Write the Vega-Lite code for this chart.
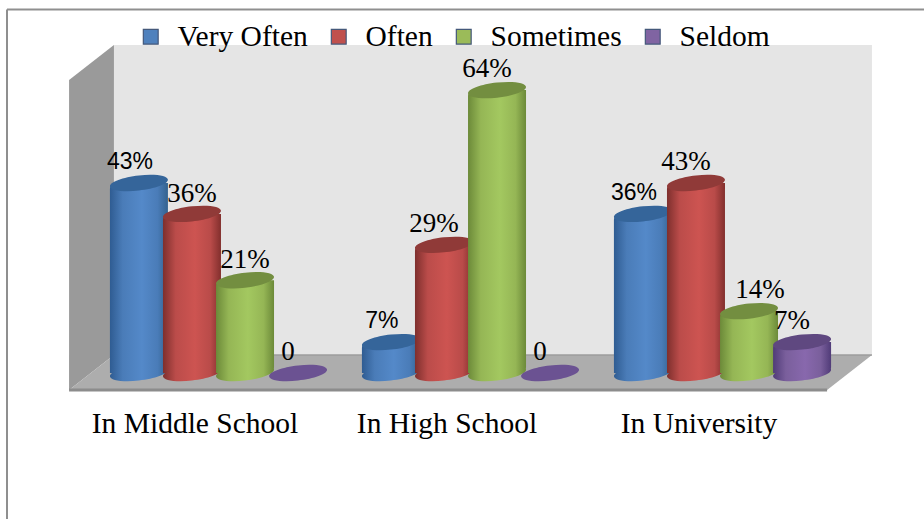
{
"$schema":"https://vega.github.io/schema/vega-lite/v6.json",
"width":924,"height":519,"padding":0,"autosize":{"type":"none"},"background":"white",
"config":{"view":{"stroke":null}},
"datasets":{
"bars":[
{"school":"In Middle School","series":"Very Often","value":43,"label":"43%"},
{"school":"In Middle School","series":"Often","value":36,"label":"36%"},
{"school":"In Middle School","series":"Sometimes","value":21,"label":"21%"},
{"school":"In Middle School","series":"Seldom","value":0,"label":"0"},
{"school":"In High School","series":"Very Often","value":7,"label":"7%"},
{"school":"In High School","series":"Often","value":29,"label":"29%"},
{"school":"In High School","series":"Sometimes","value":64,"label":"64%"},
{"school":"In High School","series":"Seldom","value":0,"label":"0"},
{"school":"In University","series":"Very Often","value":36,"label":"36%"},
{"school":"In University","series":"Often","value":43,"label":"43%"},
{"school":"In University","series":"Sometimes","value":14,"label":"14%"},
{"school":"In University","series":"Seldom","value":7,"label":"7%"}
],
"room":[
{"part":"back","u":0.089,"top":74.2,"bottom":4.07},
{"part":"back","u":3.097,"top":74.2,"bottom":4.07},
{"part":"side","u":-0.089,"top":66.3,"bottom":-3.85},
{"part":"side","u":0.089,"top":74.2,"bottom":4.07},
{"part":"floor","u":-0.089,"top":-3.85,"bottom":-3.85},
{"part":"floor","u":0.089,"top":4.07,"bottom":-3.85},
{"part":"floor","u":2.919,"top":4.07,"bottom":-3.85},
{"part":"floor","u":3.097,"top":4.07,"bottom":4.07},
{"part":"front","u":-0.089,"top":-3.85,"bottom":-3.85},
{"part":"front","u":2.919,"top":-3.85,"bottom":-3.85},
{"part":"sill","u":0.089,"top":4.07,"bottom":4.07},
{"part":"sill","u":3.097,"top":4.07,"bottom":4.07}
],
"frame":[{"left":-0.3353,"right":3.3036,"upper":82.24,"lower":-33.03}]
},
"resolve":{"scale":{"x":"independent"}},
"layer":[
{"data":{"name":"room"},
 "encoding":{
  "x":{"field":"u","type":"quantitative","axis":null,"scale":{"domain":[-0.3631,3.3036],"nice":false,"zero":false}},
  "y":{"field":"top","type":"quantitative","axis":null,"stack":null,"scale":{"domain":[-33.03,84.39],"nice":false,"zero":false}}},
 "layer":[
  {"transform":[{"filter":"datum.part==='back'"}],"mark":{"type":"area","fill":"#e5e5e5","opacity":1},"encoding":{"y2":{"field":"bottom"}}},
  {"transform":[{"filter":"datum.part==='side'"}],"mark":{"type":"area","fill":"#9a9a9a","opacity":1},"encoding":{"y2":{"field":"bottom"}}},
  {"transform":[{"filter":"datum.part==='floor'"}],"mark":{"type":"area","fill":"#adadad","opacity":1},"encoding":{"y2":{"field":"bottom"}}},
  {"transform":[{"filter":"datum.part==='sill'"}],"mark":{"type":"line","stroke":"#9c9c9c","strokeWidth":1.5}},
  {"transform":[{"filter":"datum.part==='front'"}],"mark":{"type":"line","stroke":"#8c8c8c","strokeWidth":3}},
  {"data":{"name":"frame"},"mark":{"type":"rule","stroke":"#8f8f8f","strokeWidth":2},"encoding":{"x":{"field":"left","type":"quantitative"},"x2":{"field":"right"},"y":{"field":"upper","type":"quantitative"}}},
  {"data":{"name":"frame"},"mark":{"type":"rule","stroke":"#8f8f8f","strokeWidth":2},"encoding":{"x":{"field":"left","type":"quantitative"},"y":{"field":"upper","type":"quantitative"},"y2":{"field":"lower"}}}
 ]},
{"data":{"name":"bars"},
 "encoding":{
  "x":{"field":"school","type":"nominal","sort":["In Middle School","In High School","In University"],
   "scale":{"range":[92.5,848.5],"paddingInner":0,"paddingOuter":0},
   "axis":{"title":null,"domain":false,"ticks":false,"labelAngle":0,"labelFont":"Liberation Serif","labelFontSize":29.5,"labelColor":"#000000","labelBaseline":"top","labelPadding":0,"offset":-110,"labelOffset":-23.5,"labelOverlap":false,"labelFlush":false,"labelBound":false,"labelLimit":400}},
  "xOffset":{"field":"series","type":"nominal","sort":["Very Often","Often","Sometimes","Seldom"],"scale":{"paddingInner":0,"paddingOuter":0.375}},
  "y":{"field":"value","type":"quantitative","axis":null,"stack":null,"scale":{"domain":[-33.03,84.39],"nice":false,"zero":false}}},
 "layer":[
  {"mark":{"type":"point","filled":true,"size":0,"opacity":0},
   "encoding":{"color":{"field":"series","type":"nominal","sort":["Very Often","Often","Sometimes","Seldom"],
    "scale":{"domain":["Very Often","Often","Sometimes","Seldom"],"range":["#4f81bd","#c0504d","#9bbb59","#8064a2"]},
    "legend":{"orient":"none","legendX":136,"legendY":22,"direction":"horizontal","columns":4,"title":null,"symbolType":"square","symbolSize":220,"symbolOpacity":1,"symbolStrokeColor":"#44587a","symbolStrokeWidth":1.2,"labelFont":"Liberation Serif","labelFontSize":29.5,"labelColor":"#000000","labelOffset":12,"columnPadding":16,"gridAlign":"none","labelLimit":400}}}},

  {"transform":[{"filter":"datum.series==='Very Often'"}],"layer":[
   {"mark":{"type":"point","filled":true,"size":3364,"opacity":1,"shape":"M-1 .11C-1 -.0336 -.5523 -.1992 0 -.26C.5523 -.3208 1 -.2536 1 -.11C1 .0336 .5523 .1992 0 .26C-.5523 .3208 -1 .2536 -1 .11Z","fill":{"gradient":"linear","x1":0,"x2":1,"y1":0,"y2":0,"stops":[{"offset":0,"color":"#2f5c92"},{"offset":0.22,"color":"#4a7cb8"},{"offset":0.55,"color":"#5489c9"},{"offset":0.82,"color":"#4a7cb8"},{"offset":1,"color":"#33628f"}]}},"encoding":{"y":{"datum":0}}},
   {"mark":{"type":"bar","size":58,"cornerRadiusTopLeft":6,"cornerRadiusBottomRight":6,"fill":{"gradient":"linear","x1":0,"x2":1,"y1":0,"y2":0,"stops":[{"offset":0,"color":"#2f5c92"},{"offset":0.22,"color":"#4a7cb8"},{"offset":0.55,"color":"#5489c9"},{"offset":0.82,"color":"#4a7cb8"},{"offset":1,"color":"#33628f"}]}}},
   {"mark":{"type":"point","filled":true,"size":3364,"opacity":1,"shape":"M-1 .11C-1 -.0336 -.5523 -.1992 0 -.26C.5523 -.3208 1 -.2536 1 -.11C1 .0336 .5523 .1992 0 .26C-.5523 .3208 -1 .2536 -1 .11Z","color":"#35659a"}}
  ]},
  {"transform":[{"filter":"datum.series==='Often'"}],"layer":[
   {"mark":{"type":"point","filled":true,"size":3364,"opacity":1,"shape":"M-1 .11C-1 -.0336 -.5523 -.1992 0 -.26C.5523 -.3208 1 -.2536 1 -.11C1 .0336 .5523 .1992 0 .26C-.5523 .3208 -1 .2536 -1 .11Z","fill":{"gradient":"linear","x1":0,"x2":1,"y1":0,"y2":0,"stops":[{"offset":0,"color":"#7e2f2d"},{"offset":0.22,"color":"#bb4c4a"},{"offset":0.55,"color":"#cd5451"},{"offset":0.82,"color":"#b94b49"},{"offset":1,"color":"#822f2d"}]}},"encoding":{"y":{"datum":0}}},
   {"mark":{"type":"bar","size":58,"cornerRadiusTopLeft":6,"cornerRadiusBottomRight":6,"fill":{"gradient":"linear","x1":0,"x2":1,"y1":0,"y2":0,"stops":[{"offset":0,"color":"#7e2f2d"},{"offset":0.22,"color":"#bb4c4a"},{"offset":0.55,"color":"#cd5451"},{"offset":0.82,"color":"#b94b49"},{"offset":1,"color":"#822f2d"}]}}},
   {"mark":{"type":"point","filled":true,"size":3364,"opacity":1,"shape":"M-1 .11C-1 -.0336 -.5523 -.1992 0 -.26C.5523 -.3208 1 -.2536 1 -.11C1 .0336 .5523 .1992 0 .26C-.5523 .3208 -1 .2536 -1 .11Z","color":"#903a38"}}
  ]},
  {"transform":[{"filter":"datum.series==='Sometimes'"}],"layer":[
   {"mark":{"type":"point","filled":true,"size":3364,"opacity":1,"shape":"M-1 .11C-1 -.0336 -.5523 -.1992 0 -.26C.5523 -.3208 1 -.2536 1 -.11C1 .0336 .5523 .1992 0 .26C-.5523 .3208 -1 .2536 -1 .11Z","fill":{"gradient":"linear","x1":0,"x2":1,"y1":0,"y2":0,"stops":[{"offset":0,"color":"#6c8a39"},{"offset":0.22,"color":"#95b655"},{"offset":0.55,"color":"#a3c860"},{"offset":0.82,"color":"#95b655"},{"offset":1,"color":"#6c8a39"}]}},"encoding":{"y":{"datum":0}}},
   {"mark":{"type":"bar","size":58,"cornerRadiusTopLeft":6,"cornerRadiusBottomRight":6,"fill":{"gradient":"linear","x1":0,"x2":1,"y1":0,"y2":0,"stops":[{"offset":0,"color":"#6c8a39"},{"offset":0.22,"color":"#95b655"},{"offset":0.55,"color":"#a3c860"},{"offset":0.82,"color":"#95b655"},{"offset":1,"color":"#6c8a39"}]}}},
   {"mark":{"type":"point","filled":true,"size":3364,"opacity":1,"shape":"M-1 .11C-1 -.0336 -.5523 -.1992 0 -.26C.5523 -.3208 1 -.2536 1 -.11C1 .0336 .5523 .1992 0 .26C-.5523 .3208 -1 .2536 -1 .11Z","color":"#738e40"}}
  ]},
  {"transform":[{"filter":"datum.series==='Seldom'"}],"layer":[
   {"transform":[{"filter":"datum.value>0"}],"layer":[
    {"mark":{"type":"point","filled":true,"size":3364,"opacity":1,"shape":"M-1 .11C-1 -.0336 -.5523 -.1992 0 -.26C.5523 -.3208 1 -.2536 1 -.11C1 .0336 .5523 .1992 0 .26C-.5523 .3208 -1 .2536 -1 .11Z","fill":{"gradient":"linear","x1":0,"x2":1,"y1":0,"y2":0,"stops":[{"offset":0,"color":"#503b78"},{"offset":0.22,"color":"#7a5f9c"},{"offset":0.55,"color":"#8868ad"},{"offset":0.82,"color":"#7a5f9c"},{"offset":1,"color":"#503b78"}]}},"encoding":{"y":{"datum":0}}},
    {"mark":{"type":"bar","size":58,"cornerRadiusTopLeft":6,"cornerRadiusBottomRight":6,"fill":{"gradient":"linear","x1":0,"x2":1,"y1":0,"y2":0,"stops":[{"offset":0,"color":"#503b78"},{"offset":0.22,"color":"#7a5f9c"},{"offset":0.55,"color":"#8868ad"},{"offset":0.82,"color":"#7a5f9c"},{"offset":1,"color":"#503b78"}]}}},
    {"mark":{"type":"point","filled":true,"size":3364,"opacity":1,"shape":"M-1 .11C-1 -.0336 -.5523 -.1992 0 -.26C.5523 -.3208 1 -.2536 1 -.11C1 .0336 .5523 .1992 0 .26C-.5523 .3208 -1 .2536 -1 .11Z","color":"#5f4880"}}
   ]},
   {"transform":[{"filter":"datum.value===0"}],"mark":{"type":"point","filled":true,"size":3364,"opacity":1,"shape":"M-1 .11C-1 -.0336 -.5523 -.1992 0 -.26C.5523 -.3208 1 -.2536 1 -.11C1 .0336 .5523 .1992 0 .26C-.5523 .3208 -1 .2536 -1 .11Z","color":"#6b5292"}}
  ]},

  {"transform":[{"filter":"datum.series==='Very Often'"}],"mark":{"type":"text","font":"Liberation Sans","fontSize":23,"color":"#000000","dy":-21,"dx":-9,"align":"center","baseline":"middle"},"encoding":{"text":{"field":"label"}}},
  {"transform":[{"filter":"datum.series!=='Very Often' && datum.school==='In Middle School' && datum.series!=='Seldom'"}],"mark":{"type":"text","font":"Liberation Serif","fontSize":27,"color":"#000000","dy":-20,"dx":0,"align":"center","baseline":"middle"},"encoding":{"text":{"field":"label"}}},
  {"transform":[{"filter":"datum.label==='14%'"}],"mark":{"type":"text","font":"Liberation Serif","fontSize":27,"color":"#000000","dy":-21,"dx":11,"align":"center","baseline":"middle"},"encoding":{"text":{"field":"label"}}},
  {"transform":[{"filter":"datum.series!=='Very Often' && datum.label!=='14%' && (datum.school!=='In Middle School' || datum.series==='Seldom')"}],"mark":{"type":"text","font":"Liberation Serif","fontSize":27,"color":"#000000","dy":-21,"dx":-10,"align":"center","baseline":"middle"},"encoding":{"text":{"field":"label"}}}
 ]}
]
}
